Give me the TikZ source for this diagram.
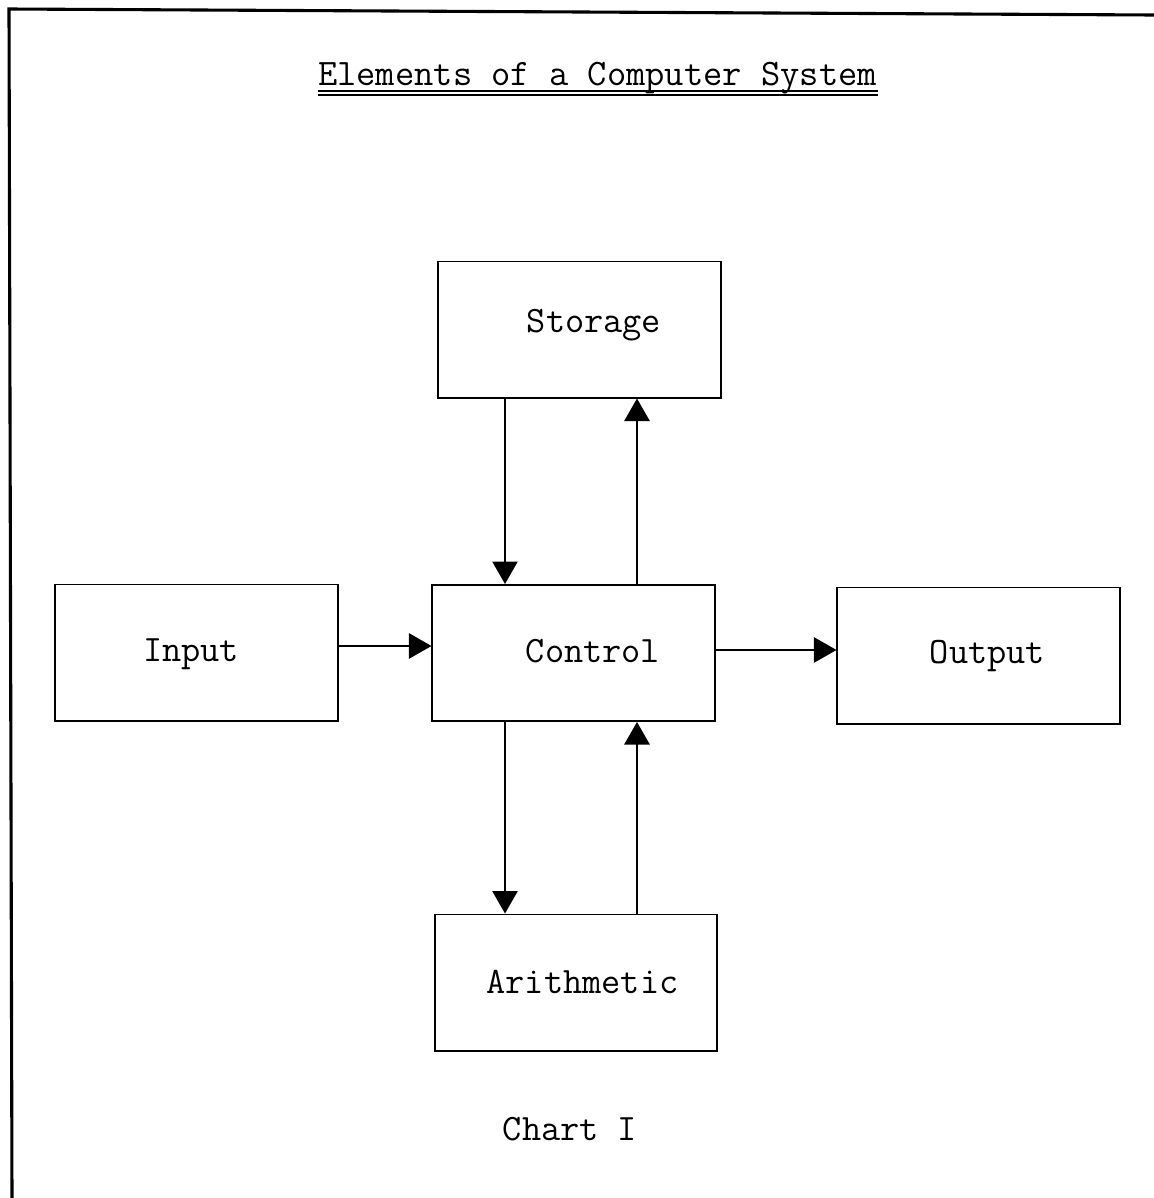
\documentclass[tikz,border=0pt]{standalone}
\usepackage{fontspec}
\usetikzlibrary{arrows.meta}

\begin{document}
\begin{tikzpicture}[x=0.025cm,y=-0.025cm]
 	\def \uprow{329.5}
 	\def \midrow{653}
 	\def \lowrow{982.5}
 	\def \leftx{505}
 	\def \rightx{637}
 	\def \inlevel{646}
 	\def \outlevel{650}

 	\tikzstyle{unit}=[rectangle,draw=black,line width=1.4pt,minimum width=7.05cm,minimum height=3.4cm]
 	\tikzstyle{label}=[anchor=base,font=\ttfamily\fontsize{26.5pt}{31pt}\selectfont]
 	\tikzstyle{flow}=[-{Triangle[length=16pt,width=18pt]},line width=1.1pt]

 	\useasboundingbox (0,0) rectangle (1154,1198);
 	% page frame
 	\draw[line width=2.2pt] (12,1198) -- (9,9) -- (1154,15);

 	% title
 	\node[label,font=\ttfamily\fontsize{26.6pt}{31pt}\selectfont] (title) at (597.5,85) {Elements of a Computer System};
 	\draw[line width=1pt] (318,91) -- (878,91);
 	\draw[line width=1pt] (318,95) -- (878,95);

 	\node[unit] (st)  at (579.5,\uprow)  {};
 	\node[unit] (inp) at (196.5,652.5)   {};
 	\node[unit] (ctl) at (573.5,\midrow) {};
 	\node[unit] (out) at (978.5,655.5)   {};
 	\node[unit] (ar)  at (576,\lowrow)   {};

 	\node[label] (stl)  at (594,332)   {Storage};
 	\node[label] (inpl) at (191,661)   {Input};
 	\node[label] (ctll) at (593,662)   {Control};
 	\node[label] (outl) at (987.5,663) {Output};
 	\node[label] (arl)  at (582.5,993) {Arithmetic};
 	\node[label] (chart) at (570,1140) {Chart I};

 	\coordinate (lx) at (\leftx,0);
 	\coordinate (rx) at (\rightx,0);
 	\coordinate (iy) at (0,\inlevel);
 	\coordinate (oy) at (0,\outlevel);

 	\draw[flow] (st.south -| lx)  -- (ctl.north -| lx);
 	\draw[flow] (ctl.north -| rx) -- (st.south -| rx);
 	\draw[flow] (ctl.south -| lx) -- (ar.north -| lx);
 	\draw[flow] (ar.north -| rx)  -- (ctl.south -| rx);
 	\draw[flow] (inp.east |- iy)  -- (ctl.west |- iy);
 	\draw[flow] (ctl.east |- oy)  -- (out.west |- oy);
\end{tikzpicture}
\end{document}
